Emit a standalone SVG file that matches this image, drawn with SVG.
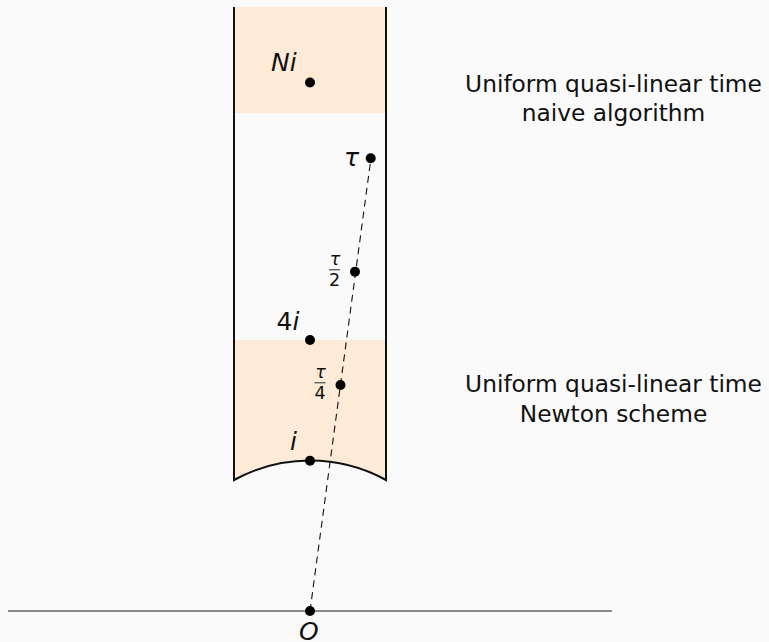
<svg xmlns="http://www.w3.org/2000/svg" width="769" height="642" viewBox="0 0 769 642">
<defs>
<style>
.band{fill:#fdebd8;stroke:none}
.wall{stroke:#111;stroke-width:2;fill:none}
.dot{fill:#000}
.lbl{font-family:"DejaVu Sans",sans-serif;font-style:italic;font-size:25px;fill:#111}
.num{font-family:"DejaVu Sans",sans-serif;font-size:25px;fill:#111}
.fr{font-family:"DejaVu Sans",sans-serif;font-size:17.5px;fill:#111;text-anchor:middle}
.fri{font-style:italic}
.txt{font-family:"DejaVu Sans",sans-serif;font-size:23.3px;fill:#111;text-anchor:middle}
.bar{stroke:#111;stroke-width:0.9}
</style>
</defs>
<rect width="769" height="642" fill="#fafafa"/>
<g id="strip">
<rect class="band" x="234" y="7" width="152" height="106"/>
<path class="band" d="M234 340 H386 V480 A158 158 0 0 0 234 480 Z"/>
<path class="wall" d="M234 7 V480 A158 158 0 0 1 386 480 V7"/>
</g>
<g id="axis">
<line x1="8" y1="611" x2="612" y2="611" stroke="#666" stroke-width="1.5"/>
</g>
<g id="connectors">
<line x1="310" y1="611" x2="371" y2="158" stroke="#111" stroke-width="1.1" stroke-dasharray="7 5"/>
</g>
<g id="node-Ni">
<circle class="dot" cx="310" cy="82.5" r="5"/>
<text class="lbl" x="271" y="71">Ni</text>
</g>
<g id="node-tau">
<circle class="dot" cx="370.7" cy="158.3" r="5"/>
<text class="lbl" x="344" y="165.5">τ</text>
</g>
<g id="node-tau2">
<circle class="dot" cx="355" cy="271.7" r="5"/>
<text class="fr fri" x="335" y="265">τ</text>
<line class="bar" x1="329" y1="269.8" x2="340" y2="269.8"/>
<text class="fr" x="334.5" y="286">2</text>
</g>
<g id="node-4i">
<circle class="dot" cx="310" cy="340" r="5"/>
<text class="num" x="276.5" y="329.5">4<tspan font-style="italic">i</tspan></text>
</g>
<g id="node-tau4">
<circle class="dot" cx="340.5" cy="385" r="5"/>
<text class="fr fri" x="320.5" y="378">τ</text>
<line class="bar" x1="314.5" y1="382.8" x2="325.5" y2="382.8"/>
<text class="fr" x="320" y="399">4</text>
</g>
<g id="node-i">
<circle class="dot" cx="310" cy="460.7" r="5"/>
<text class="lbl" x="290" y="450">i</text>
</g>
<g id="node-O">
<circle class="dot" cx="310" cy="611" r="5"/>
<text class="lbl" x="299" y="639.5">O</text>
</g>
<g id="label-naive">
<text class="txt" x="613.5" y="91.7">Uniform quasi-linear time</text>
<text class="txt" x="613.5" y="121">naive algorithm</text>
</g>
<g id="label-newton">
<text class="txt" x="613.5" y="392.3">Uniform quasi-linear time</text>
<text class="txt" x="613.5" y="422">Newton scheme</text>
</g>
</svg>
